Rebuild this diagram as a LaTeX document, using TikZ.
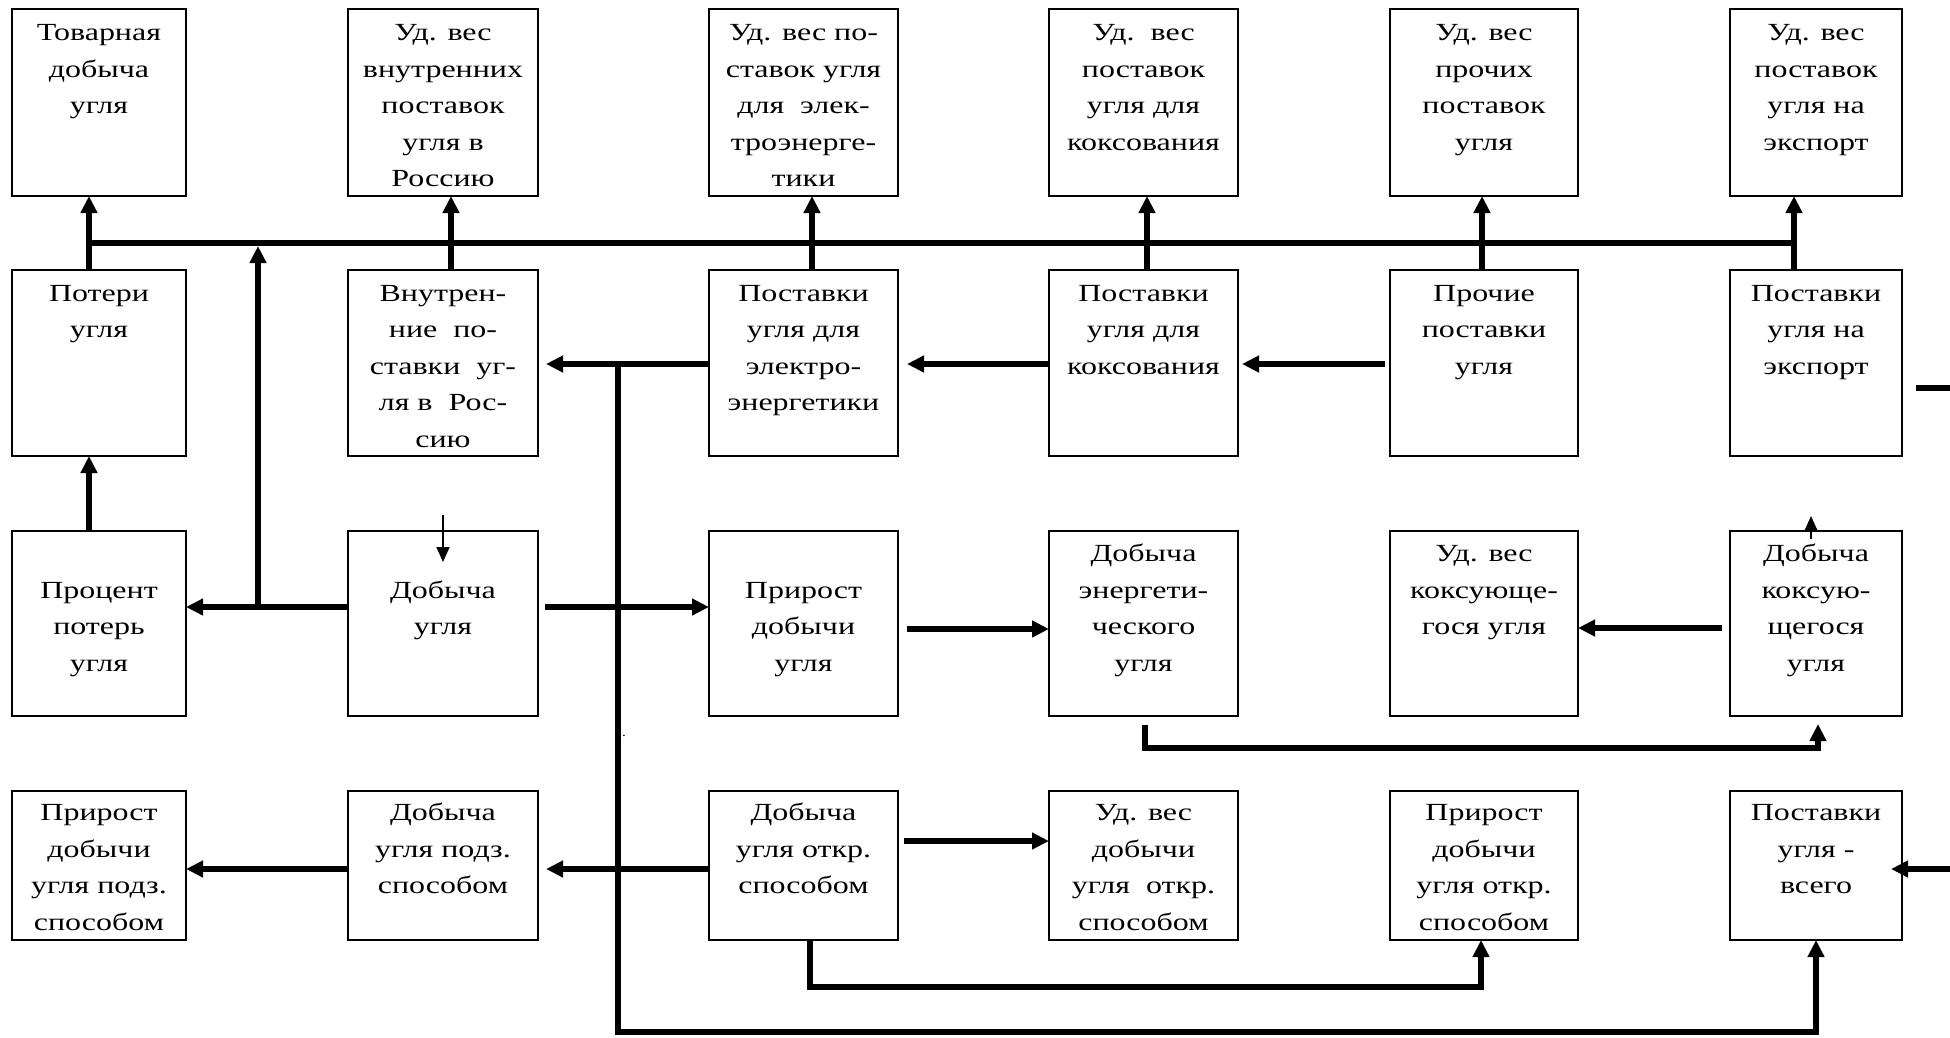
\documentclass[tikz,border=0pt]{standalone}
\usepackage{fontspec}
\setmainfont{Liberation Serif}[FakeStretch=1.3]
\usetikzlibrary{arrows.meta}
\newcommand\celltext[4]{\parbox[t][#2][t]{#1}{\centering\fontsize{24.6}{36.5}\selectfont\vspace*{#3}\strut #4}}
\begin{document}
\begin{tikzpicture}[x=1pt,y=-1pt,
  bx/.style={draw,line width=2.2pt,inner sep=0pt,outer sep=0pt,anchor=north west},
  ln/.style={line width=5.5pt},
  arr/.style={line width=5.5pt,-{Triangle[length=17pt,width=16pt]}},
  tarr/.style={line width=1.8pt,-{Triangle[length=15pt,width=13pt]}}]
\fill[white] (0,0) rectangle (1950,1037);
\useasboundingbox (0,0) rectangle (1950,1037);

% row 1
\node[bx] (tovar)   at (12,9)   {\celltext{174pt}{187pt}{6pt}{Товарная\\добыча\\угля}};
\node[bx] (udvnutr) at (348,9)  {\celltext{190pt}{187pt}{6pt}{Уд. вес\\внутренних\\поставок\\угля в\\Россию}};
\node[bx] (udelec)  at (709,9)  {\celltext{189pt}{187pt}{6pt}{Уд. вес по-\\ставок угля\\для\ \ элек-\\троэнерге-\\тики}};
\node[bx] (udkoks)  at (1049,9) {\celltext{189pt}{187pt}{6pt}{Уд.\ \ вес\\поставок\\угля для\\коксования}};
\node[bx] (udproch) at (1390,9) {\celltext{188pt}{187pt}{6pt}{Уд. вес\\прочих\\поставок\\угля}};
\node[bx] (udexp)   at (1730,9) {\celltext{172pt}{187pt}{6pt}{Уд. вес\\поставок\\угля на\\экспорт}};

% row 2
\node[bx] (poteri)   at (12,270)   {\celltext{174pt}{186pt}{5.5pt}{Потери\\угля}};
\node[bx] (vnutr)    at (348,270)  {\celltext{190pt}{186pt}{5.5pt}{Внутрен-\\ние\ \ по-\\ставки\ \ уг-\\ля в\ \ Рос-\\сию}};
\node[bx] (postel)   at (709,270)  {\celltext{189pt}{186pt}{5.5pt}{Поставки\\угля для\\электро-\\энергетики}};
\node[bx] (postkoks) at (1049,270) {\celltext{189pt}{186pt}{5.5pt}{Поставки\\угля для\\коксования}};
\node[bx] (proch)    at (1390,270) {\celltext{188pt}{186pt}{5.5pt}{Прочие\\поставки\\угля}};
\node[bx] (exp)      at (1730,270) {\celltext{172pt}{186pt}{5.5pt}{Поставки\\угля на\\экспорт}};

% row 3
\node[bx] (proc)     at (12,531)   {\celltext{174pt}{185pt}{41.5pt}{Процент\\потерь\\угля}};
\node[bx] (dob)      at (348,531)  {\celltext{190pt}{185pt}{41.5pt}{Добыча\\угля}};
\node[bx] (prir)     at (709,531)  {\celltext{189pt}{185pt}{41.5pt}{Прирост\\добычи\\угля}};
\node[bx] (dobenerg) at (1049,531) {\celltext{189pt}{185pt}{5pt}{Добыча\\энергети-\\ческого\\угля}};
\node[bx] (udkoksug) at (1390,531) {\celltext{188pt}{185pt}{5pt}{Уд. вес\\коксующе-\\гося угля}};
\node[bx] (dobkoks)  at (1730,531) {\celltext{172pt}{185pt}{5pt}{Добыча\\коксую-\\щегося\\угля}};

% row 4
\node[bx] (prirpodz) at (12,791)   {\celltext{174pt}{149pt}{4.2pt}{Прирост\\добычи\\угля подз.\\способом}};
\node[bx] (dobpodz)  at (348,791)  {\celltext{190pt}{149pt}{4.2pt}{Добыча\\угля подз.\\способом}};
\node[bx] (dobotkr)  at (709,791)  {\celltext{189pt}{149pt}{4.2pt}{Добыча\\угля откр.\\способом}};
\node[bx] (udotkr)   at (1049,791) {\celltext{189pt}{149pt}{4.2pt}{Уд. вес\\добычи\\угля\ \ откр.\\способом}};
\node[bx] (prirotkr) at (1390,791) {\celltext{188pt}{149pt}{4.2pt}{Прирост\\добычи\\угля откр.\\способом}};
\node[bx] (postall)  at (1730,791) {\celltext{172pt}{149pt}{4.2pt}{Поставки\\угля -\\всего}};

% stray dot
\node[anchor=base,inner sep=0pt,font=\fontsize{12}{14}\selectfont] (dot) at (624,736) {.};

% coordinates
\coordinate (busL) at (89,243);
\coordinate (busR) at (1794,243);
\coordinate (k1) at (451,0);
\coordinate (k2) at (812,0);
\coordinate (k3) at (1147,0);
\coordinate (k4) at (1482,0);
\coordinate (jA) at (258,607);
\coordinate (jAtop) at (258,246);
\coordinate (dOut) at (545,607);
\coordinate (dIn) at (443,515);
\coordinate (dTip) at (443,562);
\coordinate (jB) at (618,364);
\coordinate (eTip) at (546,364);
\coordinate (jC) at (618,1032);
\coordinate (gTip) at (907,364);
\coordinate (hOut) at (1385,364);
\coordinate (hTip) at (1242,364);
\coordinate (iOut) at (1916,388);
\coordinate (iEdge) at (1950,388);
\coordinate (jRight) at (1950,869);
\coordinate (jTip) at (1891,869);
\coordinate (fOut) at (907,629);
\coordinate (kOut) at (1722,628);
\coordinate (lIn) at (1811,539);
\coordinate (lTip) at (1811,516);
\coordinate (mOut) at (1145,725);
\coordinate (mA) at (1145,748);
\coordinate (mB) at (1818,748);
\coordinate (mTip) at (1818,724);
\coordinate (nOut) at (904,841);
\coordinate (oA) at (810,987);
\coordinate (oB) at (1481,987);
\coordinate (jE) at (618,869);
\coordinate (rTip) at (546,869);

% bus and column arrows
\draw[ln] (busL) -- (busR);
\draw[arr] (poteri.north -| busL) -- (tovar.south -| busL);
\draw[arr] (vnutr.north -| k1) -- (udvnutr.south -| k1);
\draw[arr] (postel.north -| k2) -- (udelec.south -| k2);
\draw[arr] (postkoks.north -| k3) -- (udkoks.south -| k3);
\draw[arr] (proch.north -| k4) -- (udproch.south -| k4);
\draw[arr] (exp.north -| busR) -- (udexp.south -| busR);

% left part
\draw[arr] (proc.north -| busL) -- (poteri.south -| busL);
\draw[arr] (dob.west |- jA) -- (proc.east |- jA);
\draw[arr] (jA) -- (jAtop);
\draw[arr] (dOut) -- (prir.west |- dOut);
\draw[tarr] (dIn) -- (dTip);

% supplies row
\draw[arr] (postel.west |- jB) -- (eTip);
\draw[arr] (jB) -- (jC) -- (postall.south |- jC) -- (postall.south);
\draw[arr] (postkoks.west |- jB) -- (gTip);
\draw[arr] (hOut) -- (hTip);
\draw[ln] (iOut) -- (iEdge);
\draw[arr] (jRight) -- (jTip);

% production row
\draw[arr] (fOut) -- (dobenerg.west |- fOut);
\draw[arr] (kOut) -- (udkoksug.east |- kOut);
\draw[tarr] (lIn) -- (lTip);
\draw[arr] (mOut) -- (mA) -- (mB) -- (mTip);

% bottom row
\draw[arr] (nOut) -- (udotkr.west |- nOut);
\draw[arr] (dobotkr.south -| oA) -- (oA) -- (oB) -- (prirotkr.south -| oB);
\draw[arr] (dobpodz.west |- jE) -- (prirpodz.east |- jE);
\draw[arr] (dobotkr.west |- jE) -- (rTip);
\end{tikzpicture}
\end{document}
